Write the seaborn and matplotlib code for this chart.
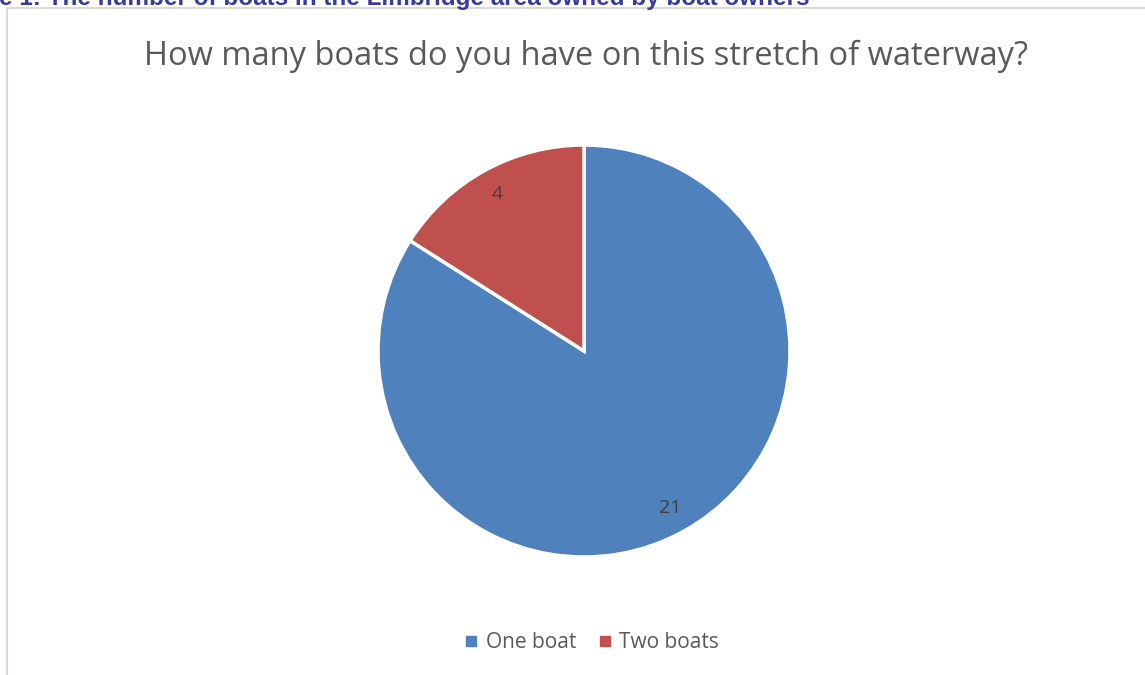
import matplotlib
matplotlib.use("Agg")
import matplotlib.pyplot as plt
from matplotlib.lines import Line2D
from matplotlib.patches import Rectangle
import seaborn as sns

categories = ["One boat", "Two boats"]
counts = [21, 4]
title = "How many boats do you have on this stretch of waterway?"
caption = "e 1: The number of boats in the Limbridge area owned by boat owners"

sns.set_theme(style="white")
plt.rcParams['font.family'] = ['Open Sans', 'DejaVu Sans']

W, H = 1145, 675
fig = plt.figure(figsize=(W / 100, H / 100), dpi=100)
fig.patch.set_facecolor("white")

palette = sns.color_palette(["#4F81BD", "#C0504D"])

# chart border (partly off the page)
fig.patches.append(Rectangle((7 / W, -0.1), 1.2, (H - 8) / H + 0.1, transform=fig.transFigure,
                             fill=False, edgecolor="#D9D9D9", lw=1.5))

# caption, cut off at the top as on the page
fig.text(-1 / W, 1 - 5 / H, caption, transform=fig.transFigure, fontsize=17.5, fontweight="bold",
         color="#3A3A98", family=["Liberation Sans", "DejaVu Sans"], va="baseline", ha="left")

cx, cy, r = 584, 351, 206
ax = fig.add_axes([(cx - r) / W, (H - cy - r) / H, 2 * r / W, 2 * r / H])
wedges, texts, autotexts = ax.pie(
    counts, colors=palette, startangle=90, counterclock=False,
    autopct=lambda p: "{:.0f}".format(p * sum(counts) / 100), pctdistance=0.87,
    wedgeprops=dict(edgecolor="white", linewidth=2.5, clip_on=False),
    textprops=dict(color="#404040", fontsize=14))
ax.set_xlim(-1, 1); ax.set_ylim(-1, 1)
ax.set_aspect("equal")

fig.text(586 / W, 1 - 56 / H, title, ha="center", va="center", fontsize=23.5, color="#595959")

handles = [Line2D([0], [0], marker="s", linestyle="", markersize=7, markerfacecolor=c,
                  markeredgecolor=c) for c in palette]
fig.legend(handles, categories, loc="center", bbox_to_anchor=(590 / W, 1 - 643 / H), ncol=2,
           frameon=False, fontsize=15, labelcolor="#595959", handletextpad=0.2,
           columnspacing=0.85, handlelength=1.0)

fig.savefig("out.png", dpi=100, facecolor="white")
